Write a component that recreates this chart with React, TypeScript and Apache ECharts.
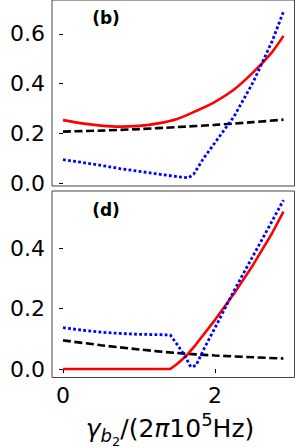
import React, { useEffect, useRef } from "react";
import * as echarts from "echarts";

// ---- data ----
const xTicks = [0, 2];
const yTicksTop = [0, 0.2, 0.4, 0.6];
const yTicksBottom = [0, 0.2, 0.4];

// panel (b)
const redTopX = [0, 0.25, 0.5, 0.75, 1.0, 1.25, 1.5, 1.75, 2.0, 2.25, 2.5, 2.75, 2.9];
const redTopY = [0.253, 0.240, 0.231, 0.227, 0.230, 0.240, 0.258, 0.290, 0.327, 0.376, 0.445, 0.527, 0.592];
const blackTopX = [0, 0.5, 1.0, 1.5, 2.0, 2.5, 2.9];
const blackTopY = [0.207, 0.211, 0.217, 0.225, 0.234, 0.245, 0.255];
const blueTopX = [0, 0.25, 0.5, 0.75, 1.0, 1.25, 1.5, 1.65, 1.72, 1.85, 2.0, 2.25, 2.5, 2.75, 2.9];
const blueTopY = [0.094, 0.083, 0.071, 0.058, 0.047, 0.036, 0.026, 0.021, 0.036, 0.100, 0.163, 0.268, 0.405, 0.570, 0.690];

// panel (d)
const redBotX = [0, 1.41, 1.5, 1.63, 1.75, 2.0, 2.25, 2.5, 2.75, 2.9];
const redBotY = [0, 0, 0.017, 0.046, 0.082, 0.163, 0.250, 0.345, 0.450, 0.522];
const blackBotX = [0, 0.5, 1.0, 1.5, 2.0, 2.5, 2.9];
const blackBotY = [0.095, 0.079, 0.065, 0.053, 0.045, 0.039, 0.035];
const blueBotX = [0, 0.25, 0.5, 0.75, 1.0, 1.25, 1.41, 1.5, 1.6, 1.68, 1.75, 1.85, 2.0, 2.25, 2.5, 2.75, 2.9];
const blueBotY = [0.137, 0.129, 0.122, 0.118, 0.115, 0.114, 0.113, 0.082, 0.045, 0.007, 0.012, 0.065, 0.137, 0.260, 0.375, 0.490, 0.560];

const panelLabels = ["(b)", "(d)"];

const FONT = "DejaVu Sans";

function zip(xs: number[], ys: number[]) {
  return xs.map((x, i) => [x, ys[i]]);
}

function measure(text: string, font: string) {
  const c = document.createElement("canvas").getContext("2d");
  if (!c) return text.length * 10;
  c.font = font;
  return c.measureText(text).width;
}

function buildXLabel() {
  // pieces: [text, size, italic, baselineOffset]
  const pieces: [string, number, boolean, number][] = [
    ["γ", 25, true, 0],
    ["b", 18, true, 5],
    ["2", 13, false, 9],
    ["/(2", 25, false, 0],
    ["π", 25, true, 0],
    ["10", 25, false, 0],
    ["5", 18, false, -11],
    ["Hz)", 25, false, 0],
  ];
  const widths = pieces.map(([t, s, it]) =>
    measure(t, `${it ? "italic " : ""}${s}px "${FONT}"`)
  );
  const total = widths.reduce((a, b) => a + b, 0);
  let x = 170 - total / 2;
  const baseY = 437;
  const els: any[] = [];
  pieces.forEach(([t, s, it, off], i) => {
    els.push({
      type: "text",
      x,
      y: baseY + off - 0.36 * s,
      style: {
        text: t,
        fontSize: s,
        fontFamily: FONT,
        fontStyle: it ? "italic" : "normal",
        fill: "#000",
        textAlign: "left",
        textVerticalAlign: "middle",
      },
    });
    x += widths[i];
  });
  return els;
}

export default function App() {
  const ref = useRef<HTMLDivElement>(null);
  useEffect(() => {
    if (!ref.current) return;
    const chart = echarts.init(ref.current, undefined, { renderer: "svg" });

    const axisLabelStyle = {
      fontSize: 22,
      fontFamily: FONT,
      color: "#000",
    };

    const lineSeries = (data: number[][], idx: number, kind: string, smooth: number | false) => {
      const base: any = {
        type: "line",
        xAxisIndex: idx,
        yAxisIndex: idx,
        data,
        showSymbol: false,
        symbol: "none",
        smooth,
        z: kind === "red" ? 3 : kind === "blue" ? 4 : 2,
      };
      if (kind === "red") base.lineStyle = { color: "#ff0000", width: 2.6, type: "solid" };
      if (kind === "black") base.lineStyle = { color: "#000000", width: 2.6, type: [8, 3.5], cap: "butt" };
      if (kind === "blue") base.lineStyle = { color: "#0000ff", width: 2.8, type: [2.8, 2.3], cap: "butt" };
      return base;
    };

    chart.setOption({
      animation: false,
      grid: [
        { left: 52, right: 1.5, top: -2, height: 188, show: true, borderColor: "#444", borderWidth: 1, backgroundColor: "transparent" },
        { left: 52, right: 1.5, top: 191, height: 186.5, show: true, borderColor: "#444", borderWidth: 1, backgroundColor: "transparent" },
      ],
      xAxis: [
        {
          type: "value", gridIndex: 0, min: -0.145, max: 3.045,
          axisLine: { show: false }, axisTick: { show: false }, axisLabel: { show: false }, splitLine: { show: false },
        },
        {
          type: "value", gridIndex: 1, min: -0.145, max: 3.045,
          axisLine: { show: false },
          axisTick: { show: true, inside: false, length: 4, lineStyle: { color: "#000", width: 1 }, customValues: xTicks },
          axisLabel: { ...axisLabelStyle, margin: 7, customValues: xTicks, formatter: (v: number) => String(Math.round(v)) },
          splitLine: { show: false },
        },
      ],
      yAxis: [
        {
          type: "value", gridIndex: 0, min: -0.012, max: 0.7365,
          axisLine: { show: false },
          axisTick: { show: true, inside: false, length: 4, lineStyle: { color: "#000", width: 1 }, customValues: yTicksTop },
          axisLabel: { ...axisLabelStyle, margin: 7, customValues: yTicksTop, formatter: (v: number) => v.toFixed(1) },
          splitLine: { show: false },
        },
        {
          type: "value", gridIndex: 1, min: -0.028, max: 0.59,
          axisLine: { show: false },
          axisTick: { show: true, inside: false, length: 4, lineStyle: { color: "#000", width: 1 }, customValues: yTicksBottom },
          axisLabel: { ...axisLabelStyle, margin: 7, customValues: yTicksBottom, formatter: (v: number) => v.toFixed(1) },
          splitLine: { show: false },
        },
      ],
      series: [
        lineSeries(zip(blackTopX, blackTopY), 0, "black", 0.3),
        lineSeries(zip(redTopX, redTopY), 0, "red", 0.3),
        lineSeries(zip(blueTopX, blueTopY), 0, "blue", false),
        lineSeries(zip(blackBotX, blackBotY), 1, "black", 0.3),
        lineSeries(zip(redBotX, redBotY), 1, "red", false),
        lineSeries(zip(blueBotX, blueBotY), 1, "blue", false),
      ],
      graphic: [
        {
          type: "text", x: 106, y: 18,
          style: { text: panelLabels[0], fontSize: 17, fontWeight: "bold", fontFamily: FONT, fill: "#000", textAlign: "center", textVerticalAlign: "middle" },
        },
        {
          type: "text", x: 106, y: 209.7,
          style: { text: panelLabels[1], fontSize: 17, fontWeight: "bold", fontFamily: FONT, fill: "#000", textAlign: "center", textVerticalAlign: "middle" },
        },
        ...buildXLabel(),
      ],
    });
    return () => chart.dispose();
  }, []);
  return (
    <div
      ref={ref}
      style={{ position: "fixed", left: 0, top: 0, width: 296, height: 448, background: "#fff" }}
    />
  );
}
